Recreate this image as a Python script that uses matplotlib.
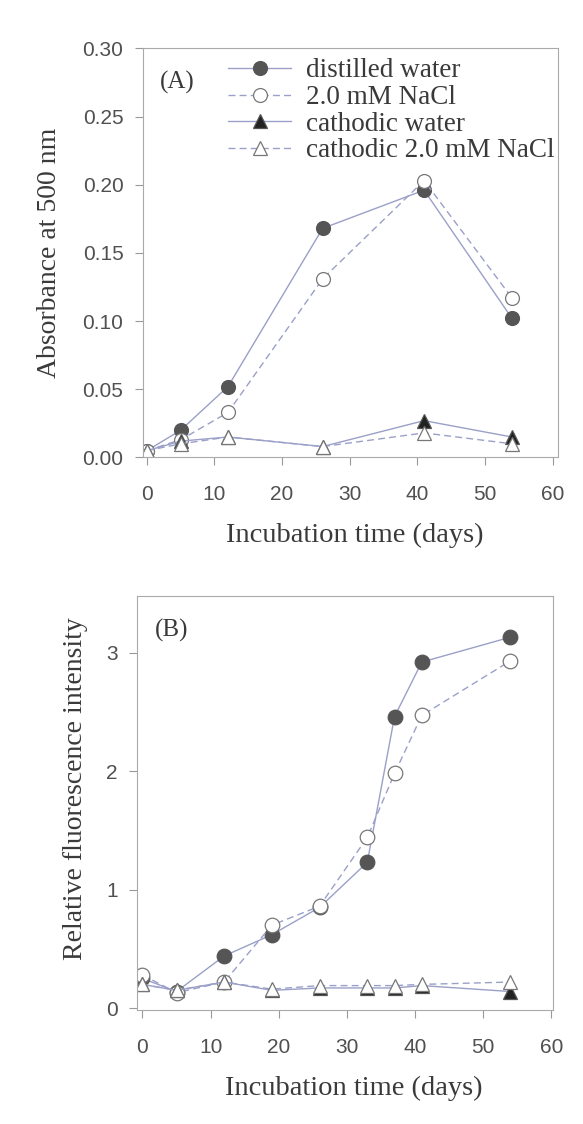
import matplotlib.pyplot as plt

# Panel A: absorbance at 500 nm
days_a = [0, 5, 12, 26, 41, 54]
abs_distilled = [0.005, 0.020, 0.052, 0.168, 0.196, 0.102]
abs_nacl = [0.005, 0.013, 0.033, 0.131, 0.203, 0.117]
abs_cath_water = [0.005, 0.012, 0.015, 0.008, 0.027, 0.015]
abs_cath_nacl = [0.005, 0.010, 0.015, 0.008, 0.018, 0.010]

# Panel B: relative fluorescence intensity
days_b = [0, 5, 12, 19, 26, 33, 37, 41, 54]
fl_distilled = [0.25, 0.14, 0.44, 0.62, 0.85, 1.23, 2.46, 2.92, 3.13]
fl_nacl = [0.28, 0.13, 0.22, 0.70, 0.86, 1.44, 1.98, 2.47, 2.93]
fl_cath_water = [0.20, 0.15, 0.22, 0.15, 0.17, 0.17, 0.17, 0.19, 0.14]
fl_cath_nacl = [0.20, 0.15, 0.22, 0.16, 0.19, 0.19, 0.19, 0.20, 0.22]

LINE = "#9aa0c8"
MARK = "#555555"
TEXT = "#3a3a3a"

plt.rcParams["font.family"] = ["Liberation Serif", "DejaVu Serif"]
plt.rcParams["text.color"] = TEXT
plt.rcParams["axes.labelcolor"] = TEXT

SERIES = [
    ("distilled water", "o", MARK, "-"),
    ("2.0 mM NaCl", "o", "white", (0, (5, 3))),
    ("cathodic water", "^", "#222222", "-"),
    ("cathodic 2.0 mM NaCl", "^", "white", (0, (5, 3))),
]


def draw(ax, x, ys, ms):
    for (label, marker, face, ls), y in zip(SERIES, ys):
        ax.plot(x, y, linestyle=ls, color=LINE, lw=1.0,
                marker=marker, markersize=ms, markerfacecolor=face,
                markeredgecolor=MARK if face != "white" else "#777777",
                markeredgewidth=0.9, label=label)


def style(ax):
    for sp in ax.spines.values():
        sp.set_color("#aaaaaa")
        sp.set_linewidth(0.8)
    ax.tick_params(direction="out", length=6, width=0.8, color="#999999",
                   labelcolor="#505050", labelsize=15)
    ax.tick_params(axis="x", pad=14)
    ax.tick_params(axis="y", pad=8)
    for lab in ax.get_xticklabels() + ax.get_yticklabels():
        lab.set_family(["Liberation Sans", "DejaVu Sans"])
    ax.set_xlabel("Incubation time (days)", fontsize=20.5, va="center")


fig = plt.figure(figsize=(5.83, 11.24), dpi=100)

ax1 = fig.add_axes([0.245, 0.593, 0.712, 0.364])
draw(ax1, days_a, [abs_distilled, abs_nacl, abs_cath_water, abs_cath_nacl], 10)
ax1.set_xlim(-0.6, 60.8)
ax1.set_ylim(0, 0.30)
ax1.set_xticks(range(0, 61, 10))
ax1.set_yticks([0, 0.05, 0.10, 0.15, 0.20, 0.25, 0.30])
ax1.set_yticklabels([f"{v:.2f}" for v in ax1.get_yticks()])
style(ax1)
ax1.set_ylabel("Absorbance at 500 nm", fontsize=20, va="center")
ax1.xaxis.set_label_coords(0.51, -0.19)
ax1.yaxis.set_label_coords(-0.225, 0.5)
ax1.text(0.041, 0.917, "(A)", transform=ax1.transAxes, fontsize=18, va="center")
ax1.legend(loc="upper left", bbox_to_anchor=(0.167, 1.015), frameon=False,
           fontsize=19.5, handlelength=2.3, handletextpad=0.55,
           labelspacing=0.06, borderaxespad=0.2)

ax2 = fig.add_axes([0.235, 0.101, 0.714, 0.369])
draw(ax2, days_b, [fl_distilled, fl_nacl, fl_cath_water, fl_cath_nacl], 10.5)
ax2.set_xlim(-0.8, 60.3)
ax2.set_ylim(-0.02, 3.48)
ax2.set_xticks(range(0, 61, 10))
ax2.set_yticks([0, 1, 2, 3])
style(ax2)
ax2.set_ylabel("Relative fluorescence intensity", fontsize=20, va="center")
ax2.xaxis.set_label_coords(0.52, -0.188)
ax2.yaxis.set_label_coords(-0.147, 0.535)
ax2.text(0.043, 0.916, "(B)", transform=ax2.transAxes, fontsize=18, va="center")

fig.savefig("out.png", dpi=100)
